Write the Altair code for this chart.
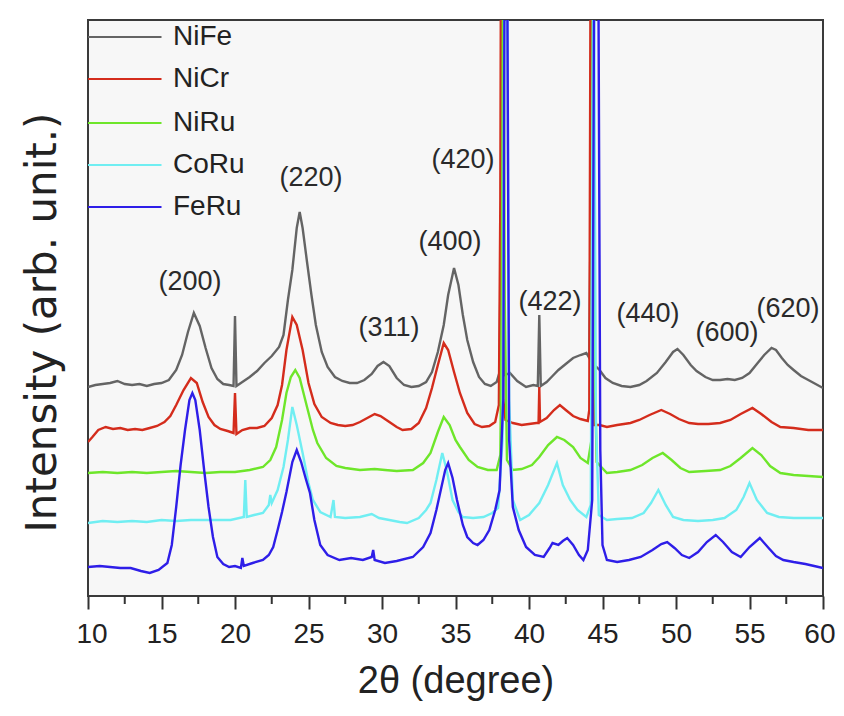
import altair as alt
import pandas as pd

# ---------------- data ----------------
series_names = ["NiFe", "NiCr", "NiRu", "CoRu", "FeRu"]
series_colors = ["#646464", "#d42c1c", "#6ee62a", "#70eef2", "#2e1ee8"]

nife_2theta = [10.0, 10.5, 11.0, 11.5, 12.0, 12.5, 13.0, 13.5, 14.0, 14.5, 15.0, 15.5,
               16.0, 16.4, 16.8, 17.2, 17.6, 18.0, 18.4, 18.8, 19.2, 19.6, 19.9, 20.0, 20.1,
               20.5, 21.0, 21.5, 22.0, 22.5, 23.0, 23.3, 23.6, 23.9, 24.2, 24.4, 24.6, 24.9,
               25.2, 25.5, 25.9, 26.3, 26.8, 27.3, 27.8, 28.3, 28.8, 29.3, 29.7, 30.1, 30.5,
               31.0, 31.5, 32.0, 32.5, 33.0, 33.4, 33.8, 34.2, 34.5, 34.9, 35.2, 35.5, 35.8,
               36.2, 36.6, 37.0, 37.4, 37.8, 38.0, 38.1, 38.15, 38.25, 38.35, 38.7, 39.2,
               39.8, 40.3, 40.6, 40.7, 40.8, 41.2, 41.6, 42.0, 42.5, 43.0, 43.5, 43.9, 44.1,
               44.2, 44.25, 44.35, 44.45, 44.8, 45.2, 45.7, 46.3, 46.9, 47.5, 48.0, 48.7,
               49.3, 49.8, 50.1, 50.5, 51.0, 51.4, 52.0, 52.5, 53.0, 53.5, 54.0, 54.5, 55.0,
               55.5, 56.0, 56.5, 56.8, 57.2, 57.6, 58.0, 58.5, 59.0, 59.5, 60.0]
nife_intensity = [208, 210, 211, 212, 214, 211, 210, 211, 209, 211, 212, 215,
                  225, 240, 263, 282, 269, 247, 227, 216, 211, 210, 209, 279, 209,
                  213, 218, 224, 232, 239, 248, 260, 295, 325, 367, 383, 367, 333,
                  300, 270, 243, 228, 218, 214, 212, 212, 215, 221, 229, 233, 229,
                  217, 210, 208, 209, 213, 223, 243, 270, 300, 327, 310, 280, 255,
                  233, 218, 211, 209, 213, 223, 395, 695, 345, 220, 222, 214,
                  208, 210, 209, 280, 209, 213, 219, 225, 231, 237, 240, 242, 237,
                  395, 695, 345, 230, 225, 217, 212, 209, 208, 210, 214, 222,
                  233, 243, 246, 240, 230, 224, 218, 215, 215, 216, 215, 217, 222,
                  231, 240, 247, 245, 237, 230, 225, 219, 215, 211, 207]

nicr_2theta = [10.0, 10.3, 10.7, 11.2, 11.7, 12.2, 12.7, 13.2, 13.7, 14.2, 14.7, 15.2, 15.6,
               16.0, 16.5, 17.0, 17.4, 17.8, 18.2, 18.6, 19.0, 19.5, 19.9, 20.0, 20.1, 20.5,
               21.0, 21.5, 22.0, 22.5, 22.9, 23.2, 23.5, 23.9, 24.2, 24.6, 25.0, 25.4, 25.9,
               26.5, 27.0, 27.5, 28.0, 28.5, 29.0, 29.5, 29.9, 30.4, 31.0, 31.4, 32.0, 32.5,
               33.0, 33.4, 33.8, 34.2, 34.5, 34.9, 35.3, 35.8, 36.3, 36.8, 37.3, 37.7, 37.95,
               38.05, 38.1, 38.2, 38.25, 38.4, 38.9, 39.5, 40.0, 40.5, 40.65, 40.7, 40.75,
               41.2, 41.7, 42.1, 42.5, 43.0, 43.5, 44.0, 44.1, 44.2, 44.3, 44.45, 44.8, 45.3,
               46.0, 46.9, 47.5, 48.2, 49.0, 49.6, 50.2, 50.9, 51.5, 52.2, 53.0, 53.7, 54.4,
               55.2, 55.8, 56.5, 57.1, 58.0, 59.0, 60.0]
nicr_intensity = [153, 158, 165, 168, 166, 167, 165, 166, 165, 167, 169, 173, 179,
                  190, 205, 217, 212, 193, 178, 170, 166, 164, 162, 202, 161, 165,
                  167, 167, 169, 177, 190, 210, 245, 278, 270, 245, 212, 191, 178,
                  172, 170, 169, 170, 173, 177, 181, 179, 174, 168, 165, 166, 172,
                  187, 207, 230, 252, 245, 223, 202, 182, 171, 168, 169, 173, 190,
                  395, 695, 445, 195, 175, 172, 170, 171, 172, 172, 208, 173,
                  177, 185, 190, 185, 179, 176, 174, 185, 695, 295, 170, 170, 168,
                  170, 172, 175, 180, 185, 181, 176, 172, 171, 171, 172, 175, 181,
                  187, 181, 173, 168, 167, 165, 165]

niru_2theta = [10.0, 11.0, 12.0, 13.0, 14.0, 15.0, 16.0, 17.0, 18.0, 19.0, 20.0, 21.0, 21.9,
               22.4, 22.8, 23.2, 23.5, 23.8, 24.1, 24.4, 24.9, 25.3, 25.6, 26.2, 26.9, 27.5,
               28.5, 29.5, 30.2, 31.0, 32.1, 32.8, 33.3, 33.8, 34.2, 34.6, 35.0, 35.3, 35.9,
               36.5, 37.2, 37.8, 38.05, 38.15, 38.25, 38.35, 38.5, 38.9, 39.5, 40.2, 40.7,
               41.3, 41.9, 42.4, 43.0, 43.5, 44.0, 44.25, 44.35, 44.45, 44.6, 45.3, 46.0,
               46.9, 47.7, 48.4, 49.1, 49.7, 50.3, 50.9, 52.0, 53.0, 53.7, 54.4, 55.2, 55.8,
               56.4, 57.1, 58.0, 59.0, 60.0]
niru_intensity = [122, 123, 122, 123, 122, 123, 124, 123, 122, 123, 123, 125, 128,
                  135, 148, 175, 202, 218, 225, 217, 188, 165, 152, 137, 129, 127,
                  125, 126, 125, 124, 125, 132, 142, 163, 178, 170, 155, 148, 135,
                  128, 125, 125, 140, 295, 695, 295, 135, 125, 126, 130, 138,
                  150, 158, 155, 148, 137, 132, 155, 695, 245, 133, 122, 123,
                  125, 130, 137, 142, 135, 127, 123, 124, 125, 129, 137, 147, 140,
                  129, 122, 120, 119, 118]

coru_2theta = [10.0, 11.0, 12.0, 13.0, 14.0, 15.0, 16.0, 17.0, 18.0, 19.0, 19.7, 20.6, 20.7,
               20.8, 21.3, 21.9, 22.3, 22.4, 22.5, 22.9, 23.3, 23.6, 23.9, 24.2, 24.6, 25.0,
               25.3, 25.8, 26.5, 26.7, 26.8, 27.5, 28.5, 29.3, 29.8, 30.5, 31.2, 31.7, 32.5,
               33.0, 33.3, 33.7, 34.1, 34.4, 34.8, 35.2, 35.5, 36.2, 36.9, 37.5, 37.9, 38.2,
               38.35, 38.5, 38.65, 38.9, 39.4, 40.0, 40.7, 41.3, 41.9, 42.3, 42.8, 43.3, 43.9,
               44.2, 44.4, 44.55, 44.75, 45.3, 46.0, 47.0, 47.8, 48.3, 48.8, 49.3, 49.8, 50.5,
               51.5, 52.5, 53.3, 54.1, 54.6, 55.0, 55.5, 56.2, 57.0, 58.0, 59.0, 60.0]
coru_intensity = [72, 74, 73, 74, 73, 75, 74, 75, 75, 75, 75, 78, 115,
                  78, 80, 82, 90, 100, 92, 105, 128, 155, 188, 170, 142, 112,
                  95, 83, 78, 95, 78, 77, 78, 81, 77, 75, 73, 72, 77,
                  85, 92, 115, 142, 125, 95, 83, 78, 77, 78, 82, 87, 155,
                  695, 695, 195, 95, 75, 80, 92, 110, 132, 110, 95, 85, 78,
                  90, 695, 175, 80, 75, 76, 77, 82, 92, 105, 90, 78, 75,
                  74, 75, 77, 85, 98, 112, 95, 82, 78, 77, 77, 77]

feru_2theta = [10.0, 10.8, 11.5, 12.2, 12.9, 13.6, 14.2, 14.8, 15.4, 15.7, 16.0, 16.3, 16.6,
               16.9, 17.1, 17.3, 17.6, 17.9, 18.2, 18.5, 18.8, 19.2, 19.6, 20.0, 20.4, 20.5,
               20.6, 21.2, 21.9, 22.3, 22.6, 22.9, 23.2, 23.5, 23.9, 24.2, 24.5, 24.8, 25.1,
               25.4, 25.8, 26.3, 27.1, 27.9, 28.7, 29.3, 29.4, 29.5, 30.2, 31.0, 32.1, 32.8,
               33.3, 33.7, 34.0, 34.3, 34.5, 34.8, 35.1, 35.5, 35.8, 36.2, 36.5, 36.9, 37.3,
               37.7, 38.0, 38.25, 38.35, 38.5, 38.65, 38.9, 39.3, 39.8, 40.4, 41.0, 41.4, 41.6,
               42.0, 42.3, 42.6, 43.0, 43.4, 43.7, 44.0, 44.3, 44.45, 44.7, 44.85, 45.0, 45.3,
               46.0, 46.8, 47.6, 48.4, 49.0, 49.4, 49.9, 50.4, 50.9, 51.5, 52.1, 52.7, 53.2,
               53.8, 54.4, 55.0, 55.7, 56.3, 56.8, 57.3, 58.0, 58.8, 59.4, 60.0]
feru_intensity = [28, 29, 28, 27, 27, 24, 22, 25, 32, 50, 88, 130, 165,
                  195, 202, 195, 165, 125, 88, 58, 38, 31, 28, 29, 27, 37,
                  29, 32, 35, 40, 48, 65, 83, 103, 133, 145, 133, 117, 102,
                  75, 50, 40, 35, 37, 35, 38, 45, 35, 32, 34, 38, 48,
                  62, 85, 105, 125, 132, 117, 95, 70, 58, 52, 50, 55, 65,
                  85, 105, 195, 695, 695, 155, 88, 65, 48, 40, 38, 47, 52,
                  50, 54, 57, 50, 40, 35, 45, 95, 695, 695, 145, 50, 35,
                  33, 35, 38, 45, 51, 53, 47, 40, 37, 43, 53, 60, 53,
                  43, 38, 48, 57, 47, 39, 35, 33, 31, 29, 27]

major_ticks = [10, 15, 20, 25, 30, 35, 40, 45, 50, 55, 60]
minor_ticks = [12.5, 17.5, 22.5, 27.5, 32.5, 37.5, 42.5, 47.5, 52.5, 57.5]

peak_labels = ["(200)", "(220)", "(311)", "(400)", "(420)", "(422)", "(440)", "(600)", "(620)"]
peak_label_2theta = [16.94, 25.17, 30.48, 34.63, 35.51, 41.43, 48.10, 53.47, 57.62]
peak_label_intensity = [313, 417, 267, 353, 435, 293, 281, 262, 286]

legend_intensity = [558, 516, 472, 430, 388]
legend_line_start = 10.0
legend_line_end = 15.0
legend_text_2theta = 15.78

# ---------------- build tables ----------------
all_x = [nife_2theta, nicr_2theta, niru_2theta, coru_2theta, feru_2theta]
all_y = [nife_intensity, nicr_intensity, niru_intensity, coru_intensity, feru_intensity]
rows = []
for name, xs, ys in zip(series_names, all_x, all_y):
    assert len(xs) == len(ys), name
    for x, y in zip(xs, ys):
        rows.append({"series": name, "two_theta": x, "intensity": y})
df = pd.DataFrame(rows)

legend_df = pd.DataFrame({
    "series": series_names,
    "y": legend_intensity,
    "x0": [legend_line_start] * 5,
    "x1": [legend_line_end] * 5,
    "xt": [legend_text_2theta] * 5,
})
peaks_df = pd.DataFrame({"label": peak_labels, "x": peak_label_2theta, "y": peak_label_intensity})
minor_df = pd.DataFrame({"x": minor_ticks})

FONT = "Liberation Sans"
x_scale = alt.Scale(domain=[10, 60], nice=False, zero=False)
y_scale = alt.Scale(domain=[-1, 575], nice=False, zero=False)
color_scale = alt.Scale(domain=series_names, range=series_colors)

lines = alt.Chart(df).mark_line(clip=True, strokeWidth=2.4).encode(
    x=alt.X("two_theta:Q", scale=x_scale,
            axis=alt.Axis(values=major_ticks, format="d", labelFont=FONT, labelFontSize=28,
                          labelColor="#222222", labelPadding=11, labelFlush=True,
                          labelFlushOffset=12,
                          labelOverlap=False, tickSize=13, tickWidth=2, tickColor="#333333",
                          domain=False, grid=False, title="2θ (degree)", titleFont=FONT,
                          titleFontSize=38, titleFontWeight="normal", titleColor="#222222",
                          titleY=85, titleBaseline="middle")),
    y=alt.Y("intensity:Q", scale=y_scale,
            axis=alt.Axis(labels=False, ticks=False, domain=False, grid=False,
                          title="Intensity (arb. unit.)", titleFont="DejaVu Sans",
                          titleFontSize=42, titleFontWeight="normal", titleColor="#222222",
                          titleX=-46, titleY=302, titleAngle=270, titleAlign="center",
                          titleBaseline="middle")),
    color=alt.Color("series:N", scale=color_scale, legend=None),
)

minor = alt.Chart(minor_df).mark_rule(color="#333333", strokeWidth=2).encode(
    x=alt.X("x:Q", scale=x_scale),
    y=alt.value(576),
    y2=alt.value(584),
)

legend_rules = alt.Chart(legend_df).mark_rule(strokeWidth=2).encode(
    x=alt.X("x0:Q", scale=x_scale),
    x2="x1:Q",
    y=alt.Y("y:Q", scale=y_scale),
    color=alt.Color("series:N", scale=color_scale, legend=None),
)

legend_text = alt.Chart(legend_df).mark_text(
    font=FONT, fontSize=28, color="#222222", align="left", baseline="middle"
).encode(
    x=alt.X("xt:Q", scale=x_scale),
    y=alt.Y("y:Q", scale=y_scale),
    text="series:N",
)

peak_text = alt.Chart(peaks_df).mark_text(
    font=FONT, fontSize=27, color="#2a2a2a", align="center", baseline="middle"
).encode(
    x=alt.X("x:Q", scale=x_scale),
    y=alt.Y("y:Q", scale=y_scale),
    text="label:N",
)

chart = alt.layer(lines, minor, legend_rules, legend_text, peak_text).properties(
    width=735,
    height=576,
    padding={"left": 80, "top": 12, "right": 13, "bottom": 110},
    autosize=alt.AutoSizeParams(type="none"),
    background="white",
).configure_view(stroke="#3a3a3a", strokeWidth=2, fill="#f7f7f7")

chart.save("out.html", embed_options={"renderer": "svg", "actions": False})
